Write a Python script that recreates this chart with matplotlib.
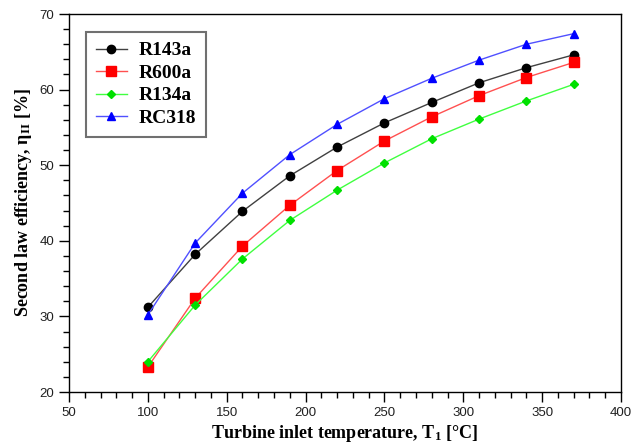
import numpy as np
import matplotlib
matplotlib.use('Agg')
import matplotlib.pyplot as plt
from matplotlib.ticker import MultipleLocator

plt.rcParams['mathtext.fontset'] = 'custom'
plt.rcParams['mathtext.rm'] = 'Liberation Serif:bold'
plt.rcParams['mathtext.it'] = 'Liberation Serif:italic:bold'
plt.rcParams['mathtext.bf'] = 'Liberation Serif:bold'

# Data
temps = [100, 130, 160, 190, 220, 250, 280, 310, 340, 370]
r143a = [31.2, 38.2, 43.9, 48.6, 52.4, 55.6, 58.3, 60.9, 62.9, 64.6]
r600a = [23.3, 32.4, 39.3, 44.7, 49.3, 53.2, 56.4, 59.2, 61.6, 63.6]
r134a = [24.0, 31.5, 37.6, 42.7, 46.7, 50.3, 53.5, 56.1, 58.5, 60.7]
rc318 = [30.2, 39.7, 46.3, 51.4, 55.4, 58.8, 61.5, 63.9, 66.0, 67.4]

fig = plt.figure(figsize=(6.41, 4.45), dpi=100)
ax = fig.add_axes([0.1076, 0.1191, 0.8612, 0.8494])

ax.plot(temps, r143a, color='#404040', lw=1, marker='o', ms=6,
        mfc='black', mec='black', label='R143a')
ax.plot(temps, r600a, color='#ff5050', lw=1, marker='s', ms=7,
        mfc='red', mec='red', label='R600a')
ax.plot(temps, r134a, color='#40ff40', lw=1, marker='D', ms=4,
        mfc='#00e000', mec='#00e000', label='R134a')
ax.plot(temps, rc318, color='#5050ff', lw=1, marker='^', ms=6,
        mfc='blue', mec='blue', label='RC318')

ax.set_xlim(50, 400)
ax.set_ylim(20, 70)
ax.xaxis.set_major_locator(MultipleLocator(50))
ax.xaxis.set_minor_locator(MultipleLocator(10))
ax.yaxis.set_major_locator(MultipleLocator(10))
ax.yaxis.set_minor_locator(MultipleLocator(2))
ax.tick_params(which='major', direction='out', length=7, width=1,
               labelsize=9.5, labelcolor='#202020')
ax.tick_params(which='minor', direction='out', length=4, width=1)
for lbl in ax.get_xticklabels() + ax.get_yticklabels():
    lbl.set_family('Liberation Sans')

for s in ax.spines.values():
    s.set_linewidth(1)

ax.set_xlabel('Turbine inlet temperature, T$_1$ [°C]', family='Liberation Serif',
              fontweight='bold', fontsize=13, labelpad=3)
ax.set_ylabel(r'Second law efficiency, η$_{\rm II}$ [%]', family='Liberation Serif',
              fontweight='bold', fontsize=13, labelpad=4)

leg = ax.legend(loc='upper left', bbox_to_anchor=(0.031, 0.952), borderaxespad=0,
                fancybox=False,
                prop={'family': 'Liberation Serif', 'weight': 'bold', 'size': 14},
                handlelength=1.6, labelspacing=0.25, borderpad=0.5,
                handletextpad=0.6, framealpha=1)
leg.get_frame().set_edgecolor('#707070')
leg.get_frame().set_linewidth(1.5)

fig.savefig('out.png', dpi=100)
